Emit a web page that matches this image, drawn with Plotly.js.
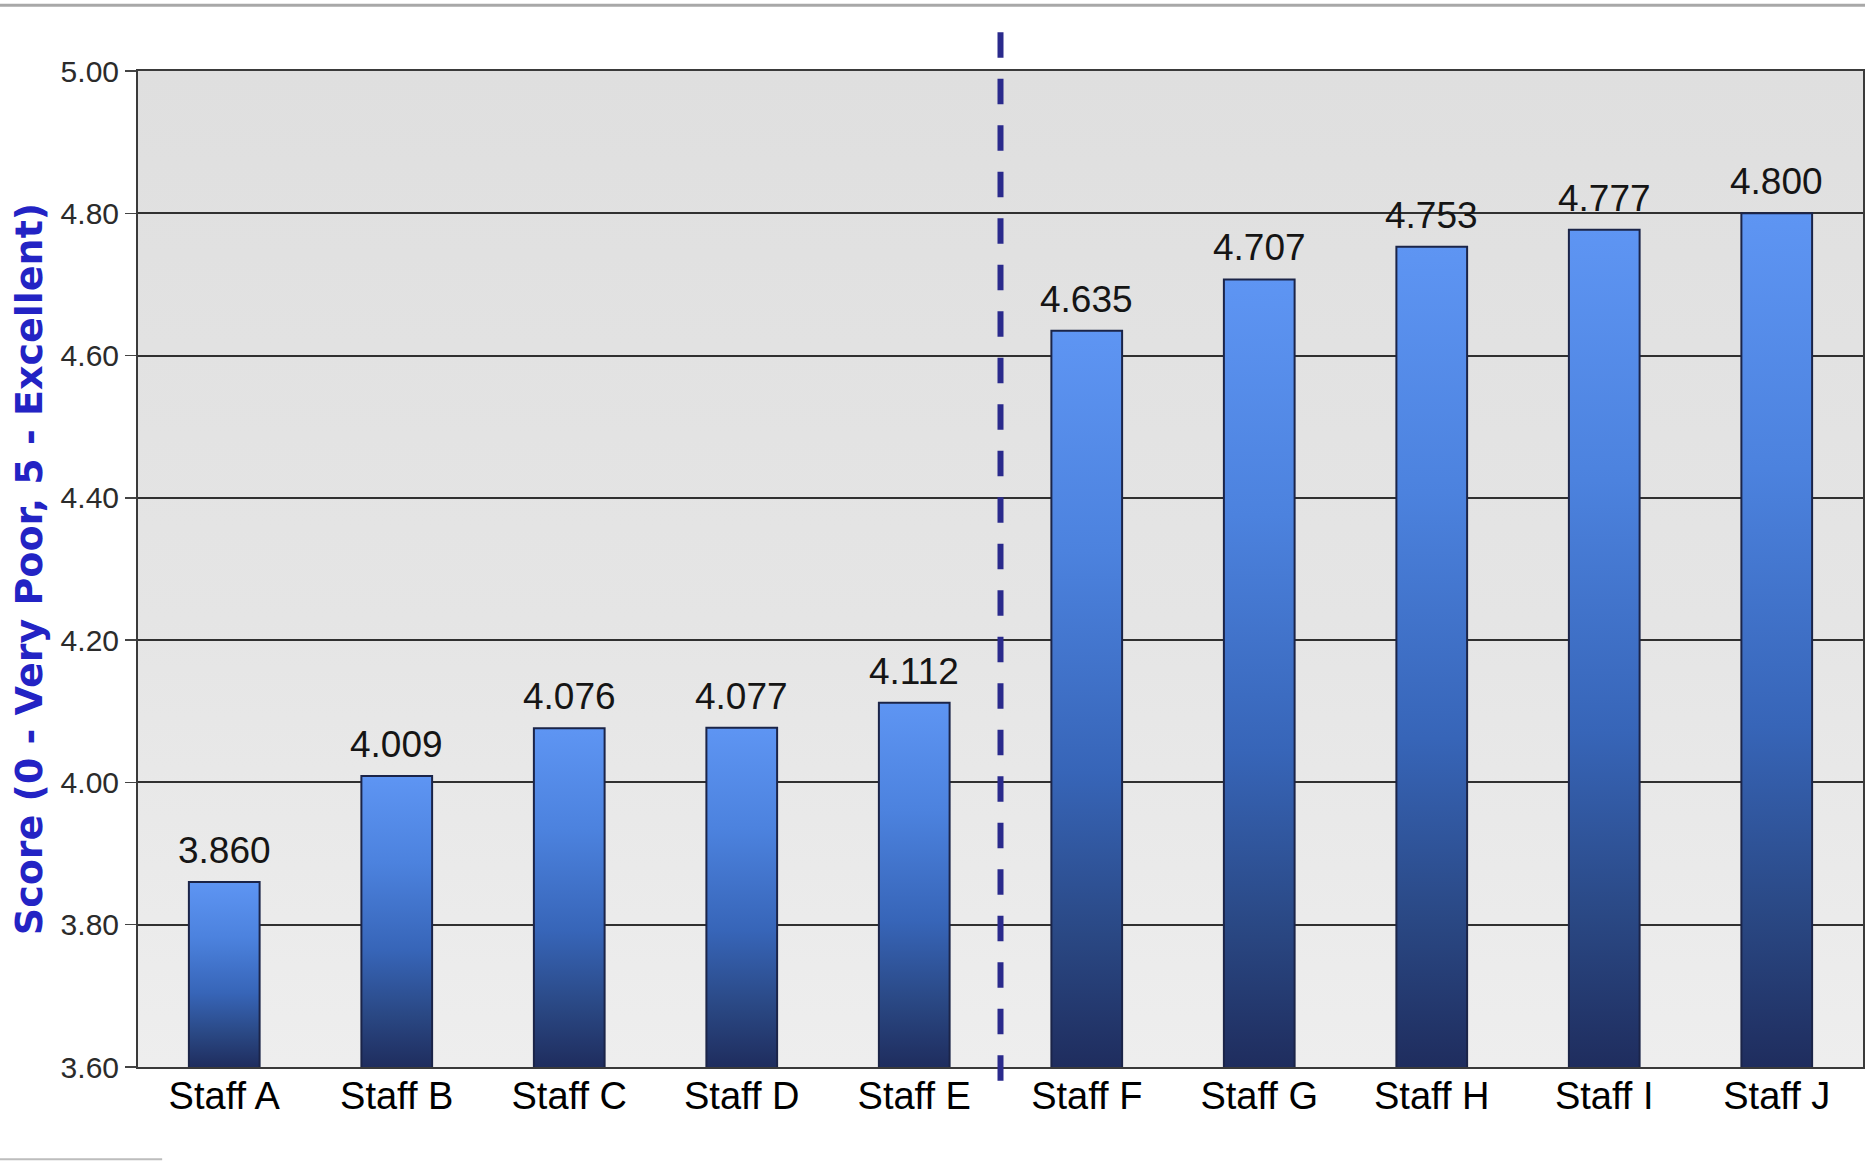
<!DOCTYPE html>
<html>
<head>
<meta charset="utf-8">
<script src="https://cdn.plot.ly/plotly-3.0.1.min.js"></script>
<style>
  html, body { margin: 0; padding: 0; background: #ffffff; }
  #chart { width: 1865px; height: 1161px; }
</style>
</head>
<body>
<div id="chart"></div>
<script>
// Staff scores on a 0-5 scale
const staff = ['Staff A', 'Staff B', 'Staff C', 'Staff D', 'Staff E',
               'Staff F', 'Staff G', 'Staff H', 'Staff I', 'Staff J'];
const scores = [3.860, 4.009, 4.076, 4.077, 4.112, 4.635, 4.707, 4.753, 4.777, 4.800];
const yTickValues = [3.6, 3.8, 4.0, 4.2, 4.4, 4.6, 4.8, 5.0];
const dividerAfter = 'Staff E';   // dashed separator sits between this and the next staff
const yTitle = 'Score (0 - Very Poor, 5 - Excellent)';

const FONT = 'Liberation Sans, Arial, Helvetica, sans-serif';

const bars = {
  type: 'bar',
  x: staff,
  y: scores,
  width: 0.41,
  marker: { color: '#3f72cf', line: { color: '#1b2448', width: 2 } },
  hoverinfo: 'x+y'
};

const valueLabels = staff.map((s, i) => ({
  x: s, y: scores[i], xref: 'x', yref: 'y',
  text: scores[i].toFixed(3),
  showarrow: false, yanchor: 'bottom', yshift: 9,
  font: { family: FONT, size: 37, color: '#151515' }
}));

const divIdx = staff.indexOf(dividerAfter) + 0.5;

const layout = {
  width: 1865, height: 1161,
  margin: { l: 138, r: 2, t: 71, b: 94 },
  paper_bgcolor: '#ffffff',
  plot_bgcolor: '#e6e6e6',
  showlegend: false,
  xaxis: {
    type: 'category',
    range: [-0.5, staff.length - 0.5],
    showgrid: false, zeroline: false,
    ticks: '', showline: true, mirror: true,
    linecolor: '#3a3a3a', linewidth: 2,
    tickfont: { family: FONT, size: 38, color: '#000000' },
    ticklabelstandoff: -6
  },
  yaxis: {
    range: [3.6, 5.0],
    tickvals: yTickValues,
    tickformat: '.2f',
    ticks: 'outside', ticklen: 11, tickcolor: '#444444', tickwidth: 1.5,
    showgrid: true, gridcolor: '#303030', gridwidth: 2,
    zeroline: false,
    showline: true, mirror: true, linecolor: '#3a3a3a', linewidth: 2,
    tickfont: { family: FONT, size: 30, color: '#2b2b2b' },
    title: {
      text: yTitle,
      font: { family: 'DejaVu Sans, Verdana, sans-serif', size: 38, color: '#2323c4', weight: 'bold' },
      standoff: 6
    }
  },
  annotations: valueLabels,
  shapes: [
    { type: 'line', xref: 'x', yref: 'paper', x0: divIdx, x1: divIdx, y0: 1.039, y1: -0.018,
      line: { color: '#2a2a8c', width: 6, dash: '25.5px,21px' } },
    { type: 'line', xref: 'paper', yref: 'paper', x0: -0.08, x1: 1.01, y0: 1.066, y1: 1.066,
      line: { color: '#a8a8a8', width: 3 } },
    { type: 'line', xref: 'paper', yref: 'paper', x0: -0.08, x1: 0.014, y0: -0.0925, y1: -0.0925,
      line: { color: '#bdbdbd', width: 2 } }
  ]
};

const SVGNS = 'http://www.w3.org/2000/svg';

function makeGradient(defs, id, y1, y2, units, stops) {
  let g = document.getElementById(id);
  if (g) g.remove();
  g = document.createElementNS(SVGNS, 'linearGradient');
  g.setAttribute('id', id);
  g.setAttribute('gradientUnits', units);
  g.setAttribute('x1', '0'); g.setAttribute('x2', '0');
  g.setAttribute('y1', String(y1)); g.setAttribute('y2', String(y2));
  stops.forEach(([off, col]) => {
    const s = document.createElementNS(SVGNS, 'stop');
    s.setAttribute('offset', off);
    s.setAttribute('stop-color', col);
    g.appendChild(s);
  });
  defs.appendChild(g);
}

// Each bar shades from bright blue at its top to deep navy at the axis floor;
// the plotting area shades from grey to a lighter grey.
function applyGradients(gd) {
  const svg = gd.querySelector('svg.main-svg');
  if (!svg) return;
  let defs = svg.querySelector('defs');
  if (!defs) { defs = document.createElementNS(SVGNS, 'defs'); svg.insertBefore(defs, svg.firstChild); }
  const floor = gd._fullLayout._size.h;
  const barStops = [['0%', '#5e95f3'], ['30%', '#4c82de'], ['60%', '#3765b8'], ['82%', '#2a4884'], ['100%', '#1f2d5e']];
  gd.querySelectorAll('.barlayer .point path').forEach((p, i) => {
    const bb = p.getBBox();
    const id = 'barFill' + i;
    makeGradient(defs, id, bb.y, floor, 'userSpaceOnUse', barStops);
    p.style.fill = 'url(#' + id + ')';
  });
  makeGradient(defs, 'bgFill', 0, 1, 'objectBoundingBox',
    [['0%', '#dfdfdf'], ['55%', '#e5e5e5'], ['100%', '#eeeeee']]);
  gd.querySelectorAll('.cartesianlayer rect.bg, .bglayer rect.bg').forEach(r => { r.style.fill = 'url(#bgFill)'; });
}

const gd = document.getElementById('chart');
Plotly.newPlot(gd, [bars], layout, { displayModeBar: false, staticPlot: true }).then(() => {
  applyGradients(gd);
  gd.on('plotly_afterplot', () => applyGradients(gd));
});
</script>
</body>
</html>
